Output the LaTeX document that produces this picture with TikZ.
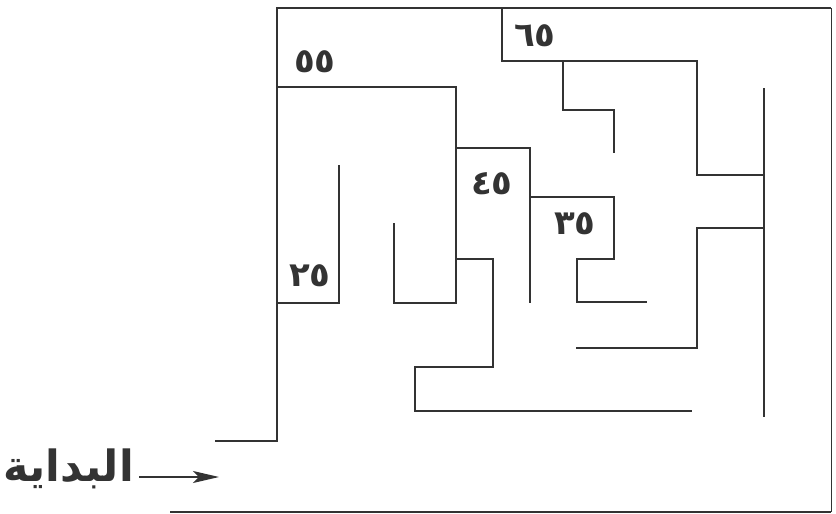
\documentclass[tikz,border=0pt]{standalone}
\usepackage{fontspec}
\usepackage{xcolor}
\usetikzlibrary{positioning,arrows.meta}
\newfontfamily\arabicfont[Script=Arabic]{DejaVu Sans}
\TeXXeTstate=1
\definecolor{wallgray}{HTML}{333333}

\begin{document}
\begin{tikzpicture}[
  x=1pt, y=-1pt,
  wall/.style={draw=wallgray, line width=2pt},
  roomnum/.style={font=\arabicfont\bfseries\fontsize{34}{36}\selectfont,
    text=wallgray, inner sep=0pt},
  startlbl/.style={font=\arabicfont\bfseries\fontsize{43}{45}\selectfont,
    text=wallgray, inner sep=0pt, anchor=east},
  startarrow/.style={draw=wallgray, line width=1.4pt,
    -{Stealth[length=26pt,width=12pt,inset=6pt]}}
]
\useasboundingbox[fill=white] (0,0) rectangle (836,514);
% outer frame
\draw[wall] (215,441) -- (277,441) -- (277,8) -- (831,8);
\draw[wall, line width=1pt] (831,8) -- (831,512);
\draw[wall] (831,512) -- (170,512);
% room 55 and inner walls
\draw[wall] (277,87) -- (456,87) -- (456,303) -- (394,303) -- (394,223);
\draw[wall] (339,165) -- (339,303) -- (277,303);
\draw[wall] (456,148) -- (530,148) -- (530,303);
\draw[wall] (456,259) -- (493,259) -- (493,367) -- (415,367) -- (415,411) -- (692,411);
% room 35
\draw[wall] (530,197) -- (614,197) -- (614,259) -- (577,259) -- (577,302) -- (647,302);
\draw[wall] (576,348) -- (697,348) -- (697,228) -- (764,228);
\draw[wall] (764,88) -- (764,417);
% room 65
\draw[wall] (502,8) -- (502,61) -- (697,61) -- (697,175) -- (764,175);
\draw[wall] (563,61) -- (563,110) -- (614,110) -- (614,153);
% numbers
\node[roomnum] (n65) at (535,36) {٦٥};
\node[roomnum] (n55) at (315,62) {٥٥};
\node[roomnum] (n45) at (492,184) {٤٥};
\node[roomnum] (n35) at (575,224) {٣٥};
\node[roomnum] (n25) at (310,276) {٢٥};
% start
\node[startlbl] (start) at (134,469) {\beginR البداية\endR};
\coordinate (tail) at (139,477);
\coordinate (entry) at (219,477);
\draw[startarrow] (tail) -- (entry);
\end{tikzpicture}
\end{document}
